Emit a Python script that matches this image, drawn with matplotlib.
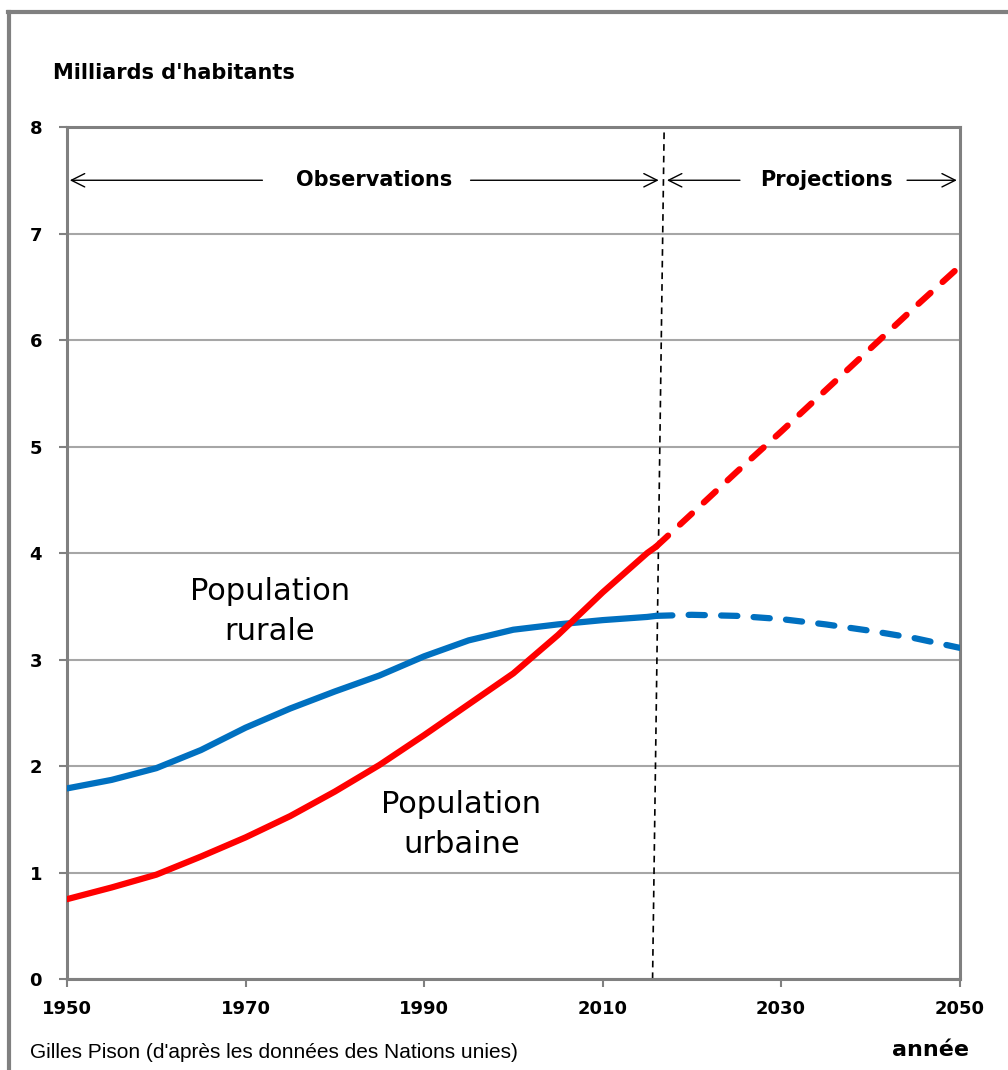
import numpy as np
import matplotlib.pyplot as plt
from matplotlib.lines import Line2D

# population mondiale, en milliards
obs_years = [1950, 1955, 1960, 1965, 1970, 1975, 1980, 1985, 1990, 1995, 2000, 2005, 2010, 2015, 2016]
rural_obs = [1.79, 1.87, 1.98, 2.15, 2.36, 2.54, 2.70, 2.85, 3.03, 3.18, 3.28, 3.33, 3.37, 3.40, 3.41]
urban_obs = [0.75, 0.86, 0.98, 1.15, 1.33, 1.53, 1.76, 2.01, 2.29, 2.58, 2.87, 3.23, 3.63, 4.00, 4.06]

proj_years = [2016, 2020, 2025, 2030, 2035, 2040, 2045, 2050]
rural_proj = [3.41, 3.42, 3.41, 3.38, 3.33, 3.27, 3.20, 3.11]
urban_proj = [4.06, 4.37, 4.76, 5.14, 5.53, 5.92, 6.31, 6.69]

xticks = [1950, 1970, 1990, 2010, 2030, 2050]
yticks = [0, 1, 2, 3, 4, 5, 6, 7, 8]

blue = '#0070C0'
red = '#FF0000'
gray = '#808080'

fig = plt.figure(figsize=(10.08, 10.70), dpi=100)
ax = fig.add_axes([0.0665, 0.085, 0.8855, 0.7963])

ax.plot(obs_years, rural_obs, color=blue, lw=4.5, solid_capstyle='round', zorder=3)
ax.plot(obs_years, urban_obs, color=red, lw=4.5, solid_capstyle='round', zorder=3)
ax.plot(proj_years, rural_proj, color=blue, lw=4.5, dashes=(2.6, 2.6), dash_capstyle='round', zorder=3)
ax.plot(proj_years, urban_proj, color=red, lw=4.5, dashes=(2.6, 2.6), dash_capstyle='round', zorder=3)

# limite observations / projections
ax.plot([2015.6, 2016.9], [0, 8], color='black', lw=1.2, dashes=(4, 3), zorder=2)

ax.set_xlim(1950, 2050)
ax.set_ylim(0, 8)
ax.set_xticks(xticks)
ax.set_yticks(yticks)
ax.grid(axis='y', color='#A6A6A6', lw=1.5, zorder=0)
for s in ax.spines.values():
    s.set_color(gray)
    s.set_linewidth(2.2)
ax.tick_params(color=gray, width=1.5, length=6, labelsize=13)
ax.tick_params(axis='x', pad=9)
ax.tick_params(axis='y', pad=12)
for lab in ax.get_xticklabels() + ax.get_yticklabels():
    lab.set_fontweight('bold')

# fleches
arr = dict(arrowstyle='->', color='black', lw=1.0, mutation_scale=24)
ax.annotate('', xy=(1950, 7.5), xytext=(1972.2, 7.5), arrowprops=arr, annotation_clip=False)
ax.annotate('', xy=(2016.6, 7.5), xytext=(1994.9, 7.5), arrowprops=arr, annotation_clip=False)
ax.annotate('', xy=(2016.9, 7.5), xytext=(2025.7, 7.5), arrowprops=arr, annotation_clip=False)
ax.annotate('', xy=(2050, 7.5), xytext=(2043.8, 7.5), arrowprops=arr, annotation_clip=False)
ax.text(1984.4, 7.5, 'Observations', ha='center', va='center', fontsize=15, fontweight='bold')
ax.text(2035.1, 7.5, 'Projections', ha='center', va='center', fontsize=15, fontweight='bold')

ax.text(1972.7, 3.45, 'Population\nrurale', ha='center', va='center', fontsize=22, linespacing=1.5)
ax.text(1994.2, 1.45, 'Population\nurbaine', ha='center', va='center', fontsize=22, linespacing=1.5)

fig.text(0.0526, 0.932, "Milliards d'habitants", ha='left', va='center', fontsize=15, fontweight='bold')
fig.text(0.030, 0.016, "Gilles Pison (d'après les données des Nations unies)", ha='left', va='center',
         fontsize=15, family='Liberation Sans')
fig.text(0.923, 0.019, 'année', ha='center', va='center', fontsize=16, fontweight='bold')

# cadre exterieur
fig.add_artist(Line2D([0.008, 1.0], [0.989, 0.989], color=gray, lw=3, transform=fig.transFigure))
fig.add_artist(Line2D([0.009, 0.009], [0.0, 0.989], color=gray, lw=3, transform=fig.transFigure))

fig.savefig('out.png', dpi=100)
